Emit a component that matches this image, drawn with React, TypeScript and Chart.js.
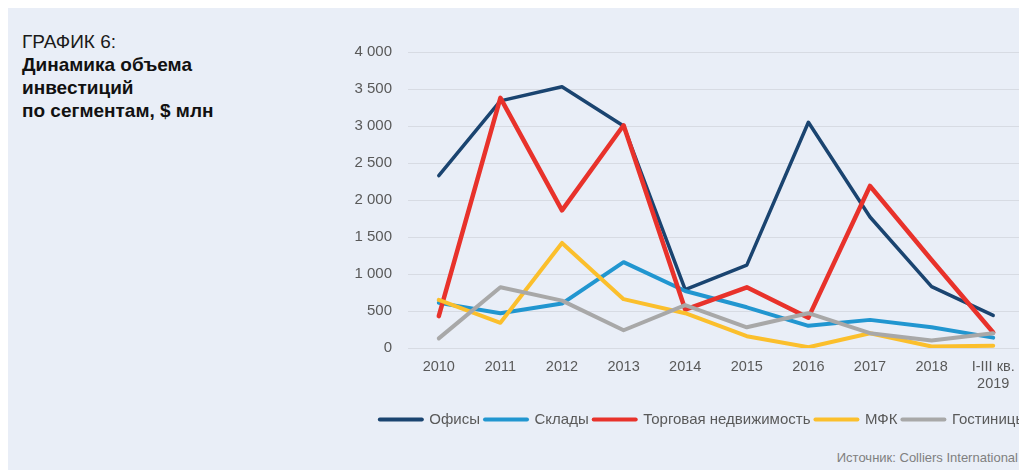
import React, { useEffect, useRef } from "react";
import { Chart, registerables } from "chart.js";

Chart.register(...registerables);

// ---- data ----
const categories: (string | string[])[] = [
  "2010", "2011", "2012", "2013", "2014", "2015", "2016", "2017", "2018", ["I-III кв.", "2019"],
];
const seriesNames = ["Офисы", "Склады", "Торговая недвижимость", "МФК", "Гостиницы"];
const offices = [2330, 3340, 3530, 3000, 790, 1120, 3050, 1770, 830, 440];
const warehouses = [610, 470, 600, 1160, 770, 550, 300, 380, 280, 140];
const retail = [430, 3380, 1860, 3010, 520, 820, 410, 2190, 1190, 210];
const mixedUse = [650, 340, 1420, 660, 470, 160, 10, 200, 20, 30];
const hotels = [130, 820, 640, 240, 580, 280, 470, 200, 100, 200];
const yTickValues = [0, 500, 1000, 1500, 2000, 2500, 3000, 3500, 4000];
const yTickLabels = ["0", "500", "1 000", "1 500", "2 000", "2 500", "3 000", "3 500", "4 000"];

const titleLine1 = "ГРАФИК 6:";
const titleLines = ["Динамика объема", "инвестиций", "по сегментам, $ млн"];
const sourceText = "Источник: Colliers International";

// ---- styles ----
const colors = ["#1a4470", "#2196d0", "#e8322b", "#fbbf2c", "#a8a8a8"];
const widths = [3.5, 4, 4.5, 4, 4];
const BG = "#e9eef7";
const FONT = "'Liberation Sans', Arial, sans-serif";
const LEGEND_DX = 21;

export default function App() {
  const canvasRef = useRef<HTMLCanvasElement | null>(null);

  useEffect(() => {
    const canvas = canvasRef.current;
    if (!canvas) return;
    const allSeries = [offices, warehouses, retail, mixedUse, hotels];
    const legendShift = {
      id: "legendShift",
      afterLayout(chart: any) {
        const l = chart.legend;
        if (l) {
          l.left += LEGEND_DX;
          l.right += LEGEND_DX;
        }
      },
    };
    const chart = new Chart(canvas, {
      type: "line",
      data: {
        labels: categories as any,
        datasets: allSeries.map((d, i) => ({
          label: seriesNames[i],
          data: d,
          borderColor: colors[i],
          backgroundColor: colors[i],
          borderWidth: widths[i],
          pointRadius: 0,
          pointHoverRadius: 0,
          tension: 0,
          fill: false,
          borderJoinStyle: "round" as const,
          borderCapStyle: "round" as const,
          order: allSeries.length - i,
        })),
      },
      options: {
        animation: false,
        responsive: false,
        devicePixelRatio: 1,
        layout: { padding: { top: 0, right: 16, left: 0, bottom: 0 } },
        plugins: {
          tooltip: { enabled: false },
          legend: {
            position: "bottom",
            labels: {
              usePointStyle: true,
              pointStyle: "line",
              pointStyleWidth: 42,
              padding: 5,
              color: "#595959",
              font: { family: FONT, size: 15 },
              generateLabels: (ch: any) =>
                ch.data.datasets.map((ds: any, i: number) => ({
                  text: ds.label,
                  fillStyle: ds.borderColor,
                  strokeStyle: ds.borderColor,
                  lineWidth: 4,
                  lineCap: "round",
                  pointStyle: "line",
                  hidden: false,
                  datasetIndex: i,
                  fontColor: "#595959",
                })),
            },
          },
        },
        scales: {
          x: {
            type: "category",
            offset: true,
            grid: { display: false, drawTicks: false },
            border: { display: false },
            ticks: {
              autoSkip: false,
              maxRotation: 0,
              padding: 10,
              color: "#595959",
              font: { family: FONT, size: 14.5 },
            },
            afterFit: (s: any) => {
              s.height = 59;
            },
          },
          y: {
            min: 0,
            max: 4000,
            afterBuildTicks: (s: any) => {
              s.ticks = yTickValues.map((v) => ({ value: v }));
            },
            grid: { color: "#d7dbe3", lineWidth: 1, drawTicks: false },
            border: { display: false },
            ticks: {
              padding: 16,
              color: "#595959",
              font: { family: FONT, size: 15 },
              callback: (v: any) => {
                const idx = yTickValues.indexOf(Number(v));
                return idx >= 0 ? yTickLabels[idx] : "";
              },
            },
            afterFit: (s: any) => {
              s.width = 68;
            },
          },
        },
      },
      plugins: [legendShift],
    });
    return () => chart.destroy();
  }, []);

  return (
    <div
      style={{
        position: "fixed",
        left: 8,
        top: 8,
        width: 1011,
        height: 462,
        background: BG,
        overflow: "hidden",
        fontFamily: FONT,
      }}
    >
      <div
        style={{
          position: "absolute",
          left: 14,
          top: 22,
          fontSize: 19,
          lineHeight: "23px",
          color: "#1a1a1a",
        }}
      >
        <div>{titleLine1}</div>
        {titleLines.map((t) => (
          <div key={t} style={{ fontWeight: "bold", color: "#111" }}>
            {t}
          </div>
        ))}
      </div>
      <canvas
        ref={canvasRef}
        width={700}
        height={410}
        style={{ position: "absolute", left: 332, top: 19, width: 700, height: 410 }}
      />
      <div
        style={{
          position: "absolute",
          right: 1,
          top: 442,
          fontSize: 13,
          lineHeight: "15px",
          color: "#808080",
          whiteSpace: "nowrap",
        }}
      >
        {sourceText}
      </div>
    </div>
  );
}
